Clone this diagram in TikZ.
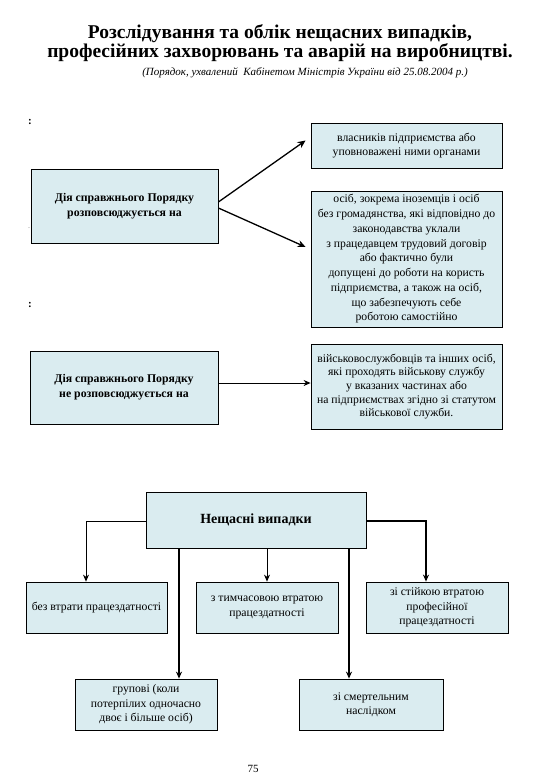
\documentclass[tikz,border=0pt]{standalone}
\usepackage{fontspec}
\setmainfont{Liberation Serif}
\usetikzlibrary{arrows.meta,calc}
\definecolor{boxfill}{RGB}{218,236,240}
\tikzset{
  box/.style={draw=black, line width=0.8pt, fill=boxfill, inner sep=0pt, align=center,
    font=\fontsize{11.7}{14.5}\selectfont},
  boldbox/.style={box, font=\fontsize{11.8}{15}\selectfont\bfseries},
  thinarr/.style={line width=0.8pt, -{Stealth[length=7pt,width=6pt]}},
  thickarr/.style={line width=1.6pt, -{Stealth[length=7pt,width=6pt]}},
  diagarr/.style={line width=1.3pt, -{Stealth[length=8pt,width=7pt]}},
}
\begin{document}
\begin{tikzpicture}[x=1pt,y=-1pt]
\useasboundingbox (0,0) rectangle (540,780);
\node[font=\fontsize{19.5}{19}\selectfont\bfseries, align=center] (title) at (280,43)
  {Розслідування та облік нещасних випадків,\\професійних захворювань та аварій на виробництві.};
\node[font=\fontsize{11}{12}\selectfont\itshape] (sub) at (305,73)
  {(Порядок, ухвалений\ \ Кабінетом Міністрів України від 25.08.2004 р.)};
\node[font=\bfseries\fontsize{11}{12}\selectfont] (c1) at (30,122) {:};
\node[font=\fontsize{8}{9}\selectfont, text=gray] (c2) at (29,228) {.};
\node[font=\bfseries\fontsize{11}{12}\selectfont] (c3) at (30,305) {:};

\node[boldbox, minimum width=187pt, minimum height=74pt] (A) at (124.5,206)
  {Дія справжнього Порядку\\розповсюджується на};
\node[box, minimum width=191pt, minimum height=45pt] (B1) at (406.5,145.5)
  {власників підприємства або\\уповноважені ними органами};
\node[box, minimum width=191pt, minimum height=136pt, font=\fontsize{11.7}{14.75}\selectfont] (B2) at (406.5,259)
  {осіб, зокрема іноземців і осіб\\без громадянства, які відповідно до\\законодавства уклали\\з працедавцем трудовий договір\\або фактично були\\допущені до роботи на користь\\підприємства, а також на осіб,\\що забезпечують себе\\роботою самостійно};
\node[boldbox, minimum width=188pt, minimum height=73pt] (C) at (124,387.5)
  {Дія справжнього Порядку\\не розповсюджується на};
\node[box, minimum width=191pt, minimum height=85pt, font=\fontsize{11.7}{13.6}\selectfont] (D) at (406.5,386.5)
  {військовослужбовців та інших осіб,\\які проходять військову службу\\у вказаних частинах або\\на підприємствах згідно зі статутом\\військової служби.};

\draw[diagarr] ($(A.east)+(0,-4)$) -- ($(B1.west)+(-5,-5)$);
\draw[diagarr] ($(A.east)+(0,2)$) -- ($(B2.west)+(-5,-12)$);
\draw[thinarr, line width=1pt] ($(C.east)+(0,-4.5)$) -- ($(D.west)+(0,-3.5)$);

\node[boldbox, minimum width=220pt, minimum height=56pt, font=\fontsize{14}{15}\selectfont\bfseries] (T) at (256,520)
  {Нещасні випадки};
\node[box, minimum width=141pt, minimum height=51pt] (E) at (96.5,607.5)
  {без втрати працездатності};
\node[box, minimum width=142pt, minimum height=51pt] (F) at (267,607.5)
  {з тимчасовою втратою\\працездатності};
\node[box, minimum width=142pt, minimum height=51pt] (G) at (437,607.5)
  {зі стійкою втратою\\професійної\\працездатності};
\node[box, minimum width=142pt, minimum height=51pt] (H) at (146,704.5)
  {групові (коли\\потерпілих одночасно\\двоє і більше осіб)};
\node[box, minimum width=144pt, minimum height=51pt] (I) at (371,704.5)
  {зі смертельним\\наслідком};

\coordinate (ex) at ($(E.north)+(-10.5,0)$);
\coordinate (gx) at ($(G.north)+(-11,0)$);
\coordinate (hx) at ($(H.north)+(33,0)$);
\coordinate (ix) at ($(I.north)+(-22,0)$);
\draw[thinarr] ($(T.west)+(0,1)$) -| (ex);
\draw[thickarr] ($(T.east)+(0,1)$) -| (gx);
\draw[thinarr] (F.north |- T.south) -- (F.north);
\draw[thickarr] (hx |- T.south) -- (hx);
\draw[thickarr] (ix |- T.south) -- (ix);

\node[font=\fontsize{11}{12}\selectfont] (pg) at (253,769) {75};
\end{tikzpicture}
\end{document}
